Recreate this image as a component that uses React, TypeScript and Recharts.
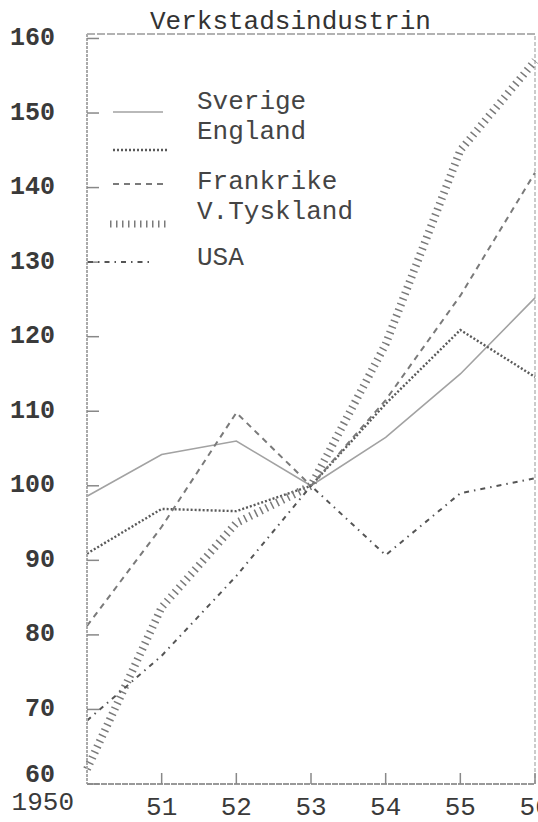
import { LineChart, Line, XAxis, YAxis, Legend, ReferenceLine } from "recharts";

const years = [1950, 1951, 1952, 1953, 1954, 1955, 1956];
const sverige = [98.6, 104.2, 106, 100, 106.5, 115, 125.2];
const england = [90.9, 96.9, 96.6, 100, 111, 120.9, 114.6];
const frankrike = [81.2, 94.5, 109.8, 100, 111.5, 125.5, 142];
const vTyskland = [62, 83.7, 95, 100, 119, 145, 157];
const usa = [68.5, 77.2, 87.9, 100, 90.7, 99, 101];

const yTicks = [60, 70, 80, 90, 100, 110, 120, 130, 140, 150, 160];
const xLabels = ["1950", "51", "52", "53", "54", "55", "56"];

const FONT = "'Courier New', 'Liberation Mono', monospace";

const data = years.map((year, i) => ({
    year,
    sverige: sverige[i],
    england: england[i],
    frankrike: frankrike[i],
    vTyskland: vTyskland[i],
    usa: usa[i],
}));

const SERIES = [
    { key: "sverige", name: "Sverige", stroke: "#a2a2a2", width: 1.6, dash: undefined },
    { key: "england", name: "England", stroke: "#5a5a5a", width: 2.4, dash: "2 2" },
    { key: "frankrike", name: "Frankrike", stroke: "#7a7a7a", width: 2, dash: "6 5" },
    { key: "vTyskland", name: "V.Tyskland", stroke: "#7a7a7a", width: 8, dash: "1.5 4.5" },
    { key: "usa", name: "USA", stroke: "#555", width: 2, dash: "5 5 1.5 5" },
];

// legend rows are typed unevenly in the original
const LEGEND_ROWS = [
    { textY: 22, lineY: 32, x1: 33, x2: 83 },
    { textY: 52, lineY: 70, x1: 33, x2: 88 },
    { textY: 102, lineY: 104, x1: 33, x2: 83 },
    { textY: 132, lineY: 144, x1: 30, x2: 87 },
    { textY: 178, lineY: 182, x1: 8, x2: 70 },
];

const YTick = ({ x, y, payload }: any) => (
    <g>
        <line x1={x} x2={x + 12} y1={y} y2={y} stroke="#888" strokeWidth={1.5} />
        <text
            x={x - 32}
            y={payload.value === 60 ? y - 9 : y}
            textAnchor="end"
            dominantBaseline="central"
            fontFamily={FONT}
            fontSize={25}
            fontWeight="bold"
            fill="#3a3a3a"
        >
            {payload.value}
        </text>
    </g>
);

const XTick = ({ x, y, payload, index }: any) => {
    const first = index === 0;
    return (
        <g>
            {!first && <line x1={x} x2={x} y1={y} y2={y - 11} stroke="#888" strokeWidth={1.5} />}
            <text
                x={first ? x - 13 : x}
                y={first ? y + 26 : y + 31}
                textAnchor={first ? "end" : "middle"}
                fontFamily={FONT}
                fontSize={26}
                fill="#3a3a3a"
            >
                {xLabels[index]}
            </text>
        </g>
    );
};

const LegendBox = () => (
    <svg width={300} height={200}>
        {SERIES.map((s, i) => {
            const row = LEGEND_ROWS[i];
            return (
                <g key={s.key}>
                    <line
                        x1={row.x1}
                        x2={row.x2}
                        y1={row.lineY}
                        y2={row.lineY}
                        stroke={s.stroke}
                        strokeWidth={s.key === "vTyskland" ? 7 : s.width}
                        strokeDasharray={s.dash}
                    />
                    <text
                        x={117}
                        y={row.textY}
                        dominantBaseline="central"
                        fontFamily={FONT}
                        fontSize={26}
                        fill="#444"
                    >
                        {s.name}
                    </text>
                </g>
            );
        })}
    </svg>
);

export default function App() {
    return (
        <div style={{ position: "absolute", left: 0, top: 0, width: 538, height: 822, background: "#fff" }}>
            <div
                style={{
                    position: "absolute",
                    left: 150,
                    top: 7,
                    fontFamily: FONT,
                    fontSize: 26,
                    color: "#333",
                    lineHeight: "30px",
                    zIndex: 2,
                }}
            >
                Verkstadsindustrin
            </div>
            <LineChart width={538} height={822} data={data} margin={{ top: 34, right: 3, bottom: 0, left: 0 }}>
                <XAxis
                    dataKey="year"
                    type="number"
                    domain={[1950, 1956]}
                    ticks={years}
                    interval={0}
                    height={38}
                    tickSize={0}
                    tickMargin={0}
                    tickLine={false}
                    tick={<XTick />}
                    axisLine={{ stroke: "#999", strokeWidth: 2, strokeDasharray: "6 1" }}
                />
                <YAxis
                    type="number"
                    domain={[60, 160.6]}
                    ticks={yTicks}
                    interval={0}
                    width={87}
                    tickSize={0}
                    tickMargin={0}
                    tickLine={false}
                    tick={<YTick />}
                    axisLine={{ stroke: "#aaa", strokeWidth: 2, strokeDasharray: "3 1" }}
                />
                <ReferenceLine y={160.6} stroke="#999" strokeWidth={1.5} strokeDasharray="8 2" />
                <ReferenceLine x={1956} stroke="#bbb" strokeWidth={1.5} strokeDasharray="4 2" />
                <Legend
                    layout="vertical"
                    align="center"
                    verticalAlign="middle"
                    content={<LegendBox />}
                    wrapperStyle={{ left: 80, top: 80, width: 300, height: 200 }}
                />
                {SERIES.map((s) => (
                    <Line
                        key={s.key}
                        dataKey={s.key}
                        name={s.name}
                        type="linear"
                        stroke={s.stroke}
                        strokeWidth={s.width}
                        strokeDasharray={s.dash}
                        strokeLinecap="butt"
                        dot={false}
                        activeDot={false}
                        isAnimationActive={false}
                    />
                ))}
            </LineChart>
        </div>
    );
}
